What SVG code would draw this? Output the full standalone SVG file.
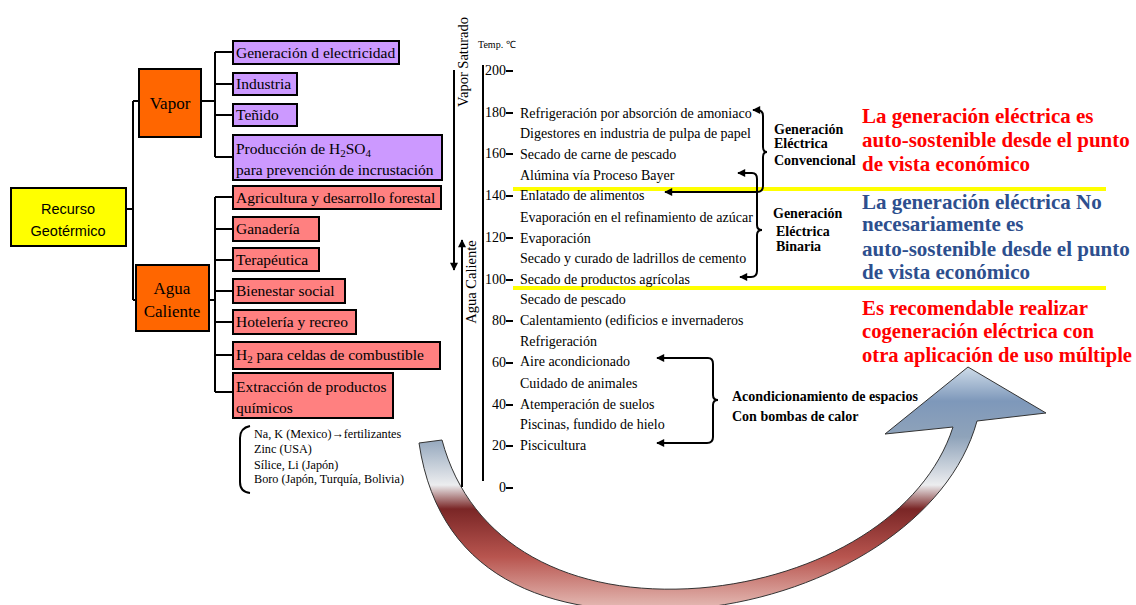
<svg xmlns="http://www.w3.org/2000/svg" width="1136" height="605" viewBox="0 0 1136 605">
<defs>
<style>
.box{stroke:#000;stroke-width:2}
.vap{fill:#CC99FF}
.agu{fill:#FF8080}
.org{fill:#FF6600}
.t{font-family:"Liberation Serif","Times New Roman",serif;fill:#000}
.s14{font-size:15.5px}
.s13{font-size:14px}
.s11{font-size:12.2px}
.ln{stroke:#000;stroke-width:2;fill:none}
.ar{stroke:#000;stroke-width:2;fill:none;marker-start:url(#ah);marker-end:url(#ah)}
.b12{font-family:"Liberation Serif","Times New Roman",serif;font-weight:bold;font-size:14px;fill:#000}
.big{font-family:"Liberation Serif","Times New Roman",serif;font-weight:bold;font-size:21px}
.red{fill:#FF0000}
.blu{fill:#2D4F8E}
.yl{stroke:#FFFF00;stroke-width:4}
</style>
<marker id="ah" viewBox="0 0 10 10" refX="9" refY="5" markerWidth="10" markerHeight="8" markerUnits="userSpaceOnUse" orient="auto-start-reverse">
<path d="M0,0 L10,5 L0,10 z" fill="#000"/>
</marker>
<linearGradient id="ag" gradientUnits="userSpaceOnUse" x1="0" y1="365" x2="0" y2="605">
<stop offset="0" stop-color="#D3E0EC"/>
<stop offset="0.15" stop-color="#7E98BA"/>
<stop offset="0.3" stop-color="#8FA3BA"/>
<stop offset="0.5" stop-color="#ECEDEF"/>
<stop offset="0.6" stop-color="#7A2626"/>
<stop offset="0.8" stop-color="#B8554F"/>
<stop offset="1" stop-color="#E2B4AE"/>
</linearGradient>
</defs>

<!-- big curved arrow -->
<g id="big-arrow">
<path d="M419,443 C440,585 560,622 700,608 C830,594 950,520 977,421 L1046,413 L968,367 L885,434 L953,427 C925,515 820,578 700,588 C570,598 470,545 442,440 Z" fill="url(#ag)" stroke="#333" stroke-width="1"/>
</g>

<!-- connectors -->
<g id="connectors">
<path class="ln" d="M126,209 H133 M133,101 V300 M133,101 H139 M133,300 H136"/>
<path class="ln" d="M201,101 H215 M215,52 V157 M215,52 H233 M215,84 H233 M215,115 H233 M215,157 H233"/>
<path class="ln" d="M209,300 H215 M215,197 V392 M215,197 H233 M215,229 H233 M215,260 H233 M215,291 H233 M215,322 H233 M215,355 H233 M215,392 H233"/>
<path class="ln" d="M250,426 Q240,428 240,438 V482 Q240,492 250,493"/>
<!-- axis -->
<line class="ln" x1="483" y1="65" x2="483" y2="481"/>
<line class="ln" x1="454" y1="70" x2="454" y2="270" marker-end="url(#ah)"/>
<line class="ln" x1="462" y1="487" x2="462" y2="240" marker-end="url(#ah)"/>
<!-- ticks -->
<path class="ln" d="M506,71 H513 M506,113 H513 M506,154 H513 M506,196 H513 M506,238 H513 M506,280 H513 M506,321 H513 M506,363 H513 M506,405 H513 M506,446 H513 M506,488 H513"/>
<!-- yellow lines -->
<line class="yl" x1="513" y1="189" x2="1106" y2="189"/>
<line class="yl" x1="513" y1="288" x2="1106" y2="288"/>
<!-- bracket arrows -->
<path class="ar" d="M665,192 H757 Q763,192 763,186 V157 Q763,152 767,152 Q763,152 763,147 V116 Q763,110 757,110 H753"/>
<path class="ar" d="M738,173 H752 Q757,173 757,179 V225 Q757,230 762,230 Q757,230 757,235 V271 Q757,277 751,277 H740"/>
<path class="ar" d="M657,358 H708 Q713,358 713,364 V395 Q713,400 718,400 Q713,400 713,405 V437 Q713,443 707,443 H657"/>
</g>

<g id="recurso">
<rect class="box" x="11" y="188" width="115" height="58" fill="#FFFF00"/>
<text x="68" y="214" font-family="Liberation Sans, Arial, sans-serif" font-size="14.5" text-anchor="middle">Recurso</text>
<text x="68" y="236" font-family="Liberation Sans, Arial, sans-serif" font-size="14.5" text-anchor="middle">Geotérmico</text>
</g>
<g id="vapor">
<rect class="box org" x="139" y="69" width="62" height="68"/>
<text class="t" x="170" y="109" font-size="17" text-anchor="middle">Vapor</text>
</g>
<g id="agua">
<rect class="box org" x="136" y="265" width="73" height="66"/>
<text class="t" x="172" y="294" font-size="17" text-anchor="middle">Agua</text>
<text class="t" x="172" y="317" font-size="17" text-anchor="middle">Caliente</text>
</g>

<g id="v1"><rect class="box vap" x="233" y="41" width="166" height="23"/><text class="t s14" x="236" y="58">Generación d electricidad</text></g>
<g id="v2"><rect class="box vap" x="233" y="73" width="64" height="22"/><text class="t s14" x="236" y="89">Industria</text></g>
<g id="v3"><rect class="box vap" x="233" y="104" width="64" height="22"/><text class="t s14" x="236" y="120">Teñido</text></g>
<g id="v4"><rect class="box vap" x="233" y="135" width="209" height="45"/><text class="t s14" x="236" y="154">Producción de H<tspan font-size="11" dy="3">2</tspan><tspan dy="-3">SO</tspan><tspan font-size="11" dy="3">4</tspan></text><text class="t s14" x="236" y="175">para prevención de incrustación</text></g>

<g id="a1"><rect class="box agu" x="233" y="186" width="208" height="23"/><text class="t s14" x="236" y="203">Agricultura y desarrollo forestal</text></g>
<g id="a2"><rect class="box agu" x="233" y="217" width="86" height="24"/><text class="t s14" x="236" y="234">Ganadería</text></g>
<g id="a3"><rect class="box agu" x="233" y="248" width="86" height="23"/><text class="t s14" x="236" y="265">Terapéutica</text></g>
<g id="a4"><rect class="box agu" x="233" y="279" width="112" height="24"/><text class="t s14" x="236" y="296">Bienestar social</text></g>
<g id="a5"><rect class="box agu" x="233" y="310" width="123" height="24"/><text class="t s14" x="236" y="327">Hotelería y recreo</text></g>
<g id="a6"><rect class="box agu" x="233" y="342" width="207" height="27"/><text class="t s14" x="236" y="360">H<tspan font-size="11" dy="3">2</tspan><tspan dy="-3"> para celdas de combustible</tspan></text></g>
<g id="a7"><rect class="box agu" x="233" y="373" width="160" height="45"/><text class="t s14" x="236" y="392">Extracción de productos</text><text class="t s14" x="236" y="413">químicos</text></g>

<g id="quimicos">
<text class="t s11" x="254" y="438">Na, K (Mexico)→fertilizantes</text>
<text class="t s11" x="254" y="453">Zinc (USA)</text>
<text class="t s11" x="254" y="469">Sílice, Li (Japón)</text>
<text class="t s11" x="254" y="483">Boro (Japón, Turquía, Bolivia)</text>
</g>

<g id="axis-labels">
<text class="t" font-size="14.5" transform="translate(468,62) rotate(-90)" text-anchor="middle">Vapor Saturado</text>
<text class="t" font-size="14.5" transform="translate(476,282) rotate(-90)" text-anchor="middle">Agua Caliente</text>
<text class="t" font-size="10" x="478" y="48">Temp. ℃</text>
<g class="t" font-size="14" text-anchor="end">
<text x="506" y="75">200</text>
<text x="506" y="117">180</text>
<text x="506" y="158">160</text>
<text x="506" y="200">140</text>
<text x="506" y="242">120</text>
<text x="506" y="284">100</text>
<text x="506" y="325">80</text>
<text x="506" y="367">60</text>
<text x="506" y="409">40</text>
<text x="506" y="450">20</text>
<text x="506" y="492">0</text>
</g>
</g>

<g id="usos" class="t s13">
<text x="520" y="118">Refrigeración por absorción de amoniaco</text>
<text x="520" y="138">Digestores en industria de pulpa de papel</text>
<text x="520" y="159">Secado de carne de pescado</text>
<text x="520" y="180">Alúmina vía Proceso Bayer</text>
<text x="520" y="200">Enlatado de alimentos</text>
<text x="520" y="222">Evaporación en el refinamiento de azúcar</text>
<text x="520" y="243">Evaporación</text>
<text x="520" y="263">Secado y curado de ladrillos de cemento</text>
<text x="520" y="284">Secado de productos agrícolas</text>
<text x="520" y="304">Secado de pescado</text>
<text x="520" y="325">Calentamiento (edificios e invernaderos</text>
<text x="520" y="346">Refrigeración</text>
<text x="520" y="366">Aire acondicionado</text>
<text x="520" y="388">Cuidado de animales</text>
<text x="520" y="409">Atemperación de suelos</text>
<text x="520" y="429">Piscinas, fundido de hielo</text>
<text x="520" y="450">Piscicultura</text>
</g>

<g id="gen-conv">
<text class="b12" x="774" y="134">Generación</text>
<text class="b12" x="774" y="148">Eléctrica</text>
<text class="b12" x="774" y="165">Convencional</text>
</g>
<g id="gen-bin">
<text class="b12" x="773" y="218">Generación</text>
<text class="b12" x="776" y="236">Eléctrica</text>
<text class="b12" x="776" y="251">Binaria</text>
</g>
<g id="acond">
<text class="b12" x="732" y="401">Acondicionamiento de espacios</text>
<text class="b12" x="732" y="421">Con bombas de calor</text>
</g>

<g id="nota1" class="big red">
<text x="862" y="123">La generación eléctrica es</text>
<text x="862" y="147">auto-sostenible desde el punto</text>
<text x="862" y="171">de vista económico</text>
</g>
<g id="nota2" class="big blu">
<text x="862" y="209">La generación eléctrica No</text>
<text x="862" y="231">necesariamente es</text>
<text x="862" y="256">auto-sostenible desde el punto</text>
<text x="862" y="279">de vista económico</text>
</g>
<g id="nota3" class="big red">
<text x="862" y="315" textLength="226" lengthAdjust="spacingAndGlyphs">Es recomendable realizar</text>
<text x="862" y="338" textLength="232" lengthAdjust="spacingAndGlyphs">cogeneración eléctrica con</text>
<text x="862" y="362" textLength="270" lengthAdjust="spacingAndGlyphs">otra aplicación de uso múltiple</text>
</g>
</svg>
